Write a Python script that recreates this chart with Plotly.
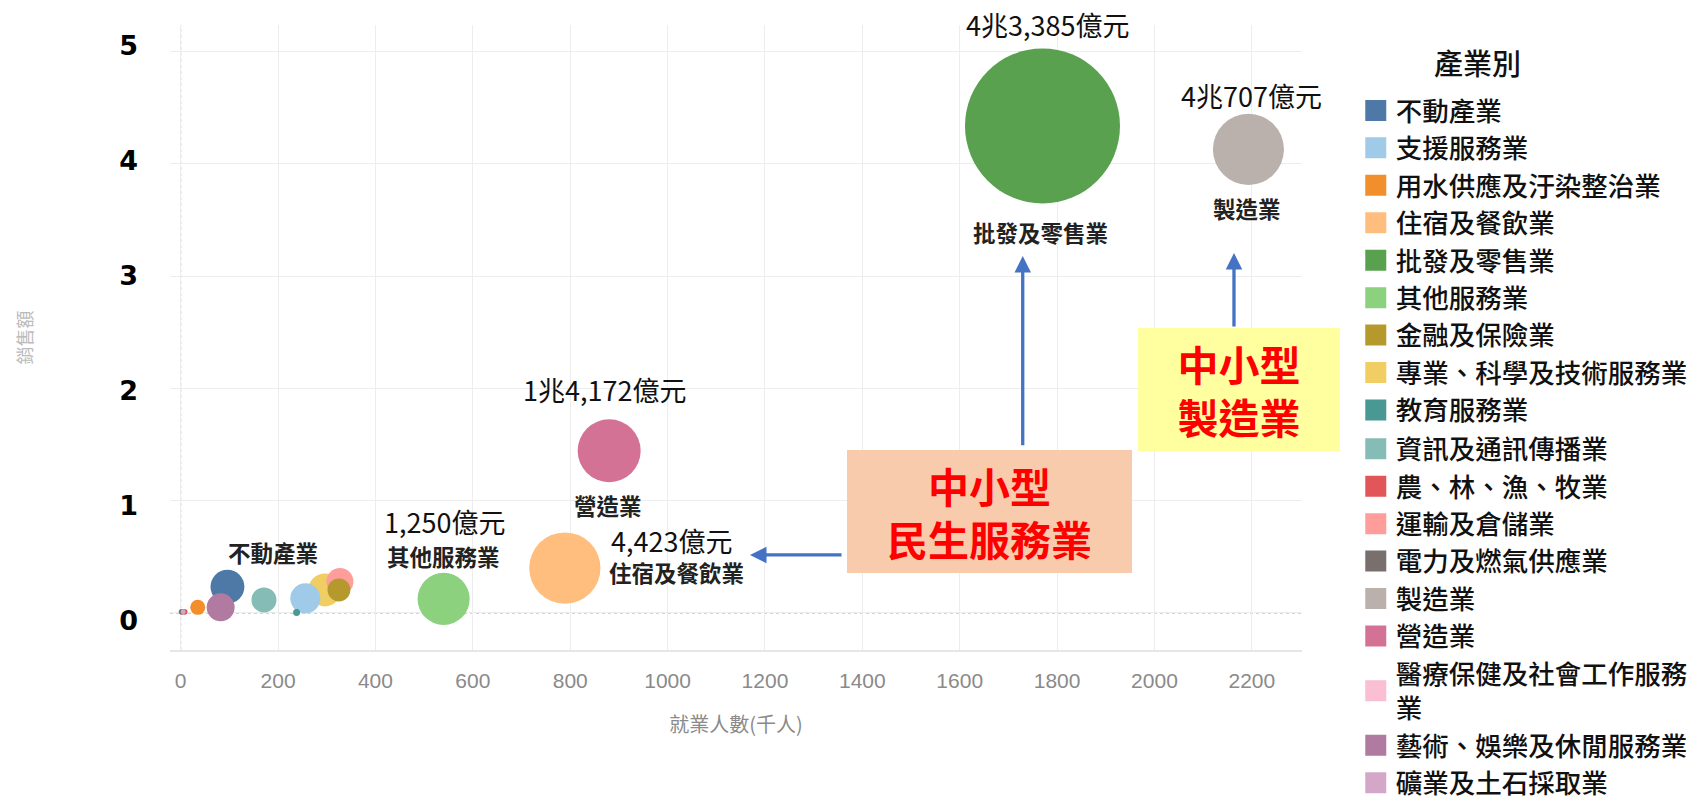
import plotly.graph_objects as go

# ---------------- data ----------------
industries = ["不動產業", "支援服務業", "用水供應及汙染整治業", "住宿及餐飲業", "批發及零售業",
              "其他服務業", "金融及保險業", "專業、科學及技術服務業", "教育服務業", "資訊及通訊傳播業",
              "農、林、漁、牧業", "運輸及倉儲業", "電力及燃氣供應業", "製造業", "營造業",
              "醫療保健及社會工作服務業", "藝術、娛樂及休閒服務業", "礦業及土石採取業"]
legend_names = ["不動產業", "支援服務業", "用水供應及汙染整治業", "住宿及餐飲業", "批發及零售業",
                "其他服務業", "金融及保險業", "專業、科學及技術服務業", "教育服務業", "資訊及通訊傳播業",
                "農、林、漁、牧業", "運輸及倉儲業", "電力及燃氣供應業", "製造業", "營造業",
                "醫療保健及社會工作服務<br>業", "藝術、娛樂及休閒服務業", "礦業及土石採取業"]
colors = ["#4E79A7", "#A0CBE8", "#F28E2B", "#FFBE7D", "#59A14F", "#8CD17D", "#B6992D", "#F1CE63",
          "#499894", "#86BCB6", "#E15759", "#FF9D9A", "#79706E", "#BAB0AC", "#D37295", "#FABFD2",
          "#B07AA1", "#D4A6C8"]
# 就業人數 (千人)
employment = [96, 256, 35, 789, 1770, 540, 325, 296, 238, 171, 8, 327, 2, 2193, 880, 312, 82, 5]
# 銷售額 (兆元)
sales = [0.234, 0.13, 0.05, 0.40, 4.3385, 0.125, 0.205, 0.205, 0.005, 0.116, 0.01, 0.28, 0.01,
         4.13, 1.445, 0.25, 0.05, 0.01]
# 企業家數 (千家)
enterprises = [33, 26, 6.5, 146, 690, 78, 15, 31, 1.4, 18, 1.0, 21, 1.0, 145, 114, 12, 22.5, 0.7]

label_industries = ["批發及零售業", "製造業", "營造業", "其他服務業", "住宿及餐飲業", "不動產業"]
label_values = ["4兆3,385億元", "4兆707億元", "1兆4,172億元", "1,250億元", "4,423億元", ""]

x_ticks = list(range(0, 2201, 200))
y_ticks = [0, 1, 2, 3, 4, 5]

legend_title = "產業別"
callout_texts = ["中小型<br>民生服務業", "中小型<br>製造業"]

# ---------------- figure ----------------
CJK = "Noto Sans CJK TC"
max_diam = 155
sizeref = 2.0 * max(enterprises) / (max_diam ** 2)

fig = go.Figure()

# big bubbles first so small ones stay visible; the hidden 醫療 bubble sits underneath
hidden_first = [industries.index("醫療保健及社會工作服務業")]
order = hidden_first + [i for i in sorted(range(len(industries)), key=lambda i: -enterprises[i])
                        if i not in hidden_first]
for i in order:
    fig.add_trace(go.Scatter(
        x=[employment[i]], y=[sales[i]], mode="markers", name=industries[i],
        marker=dict(size=[enterprises[i]], sizemode="area", sizeref=sizeref,
                    color=colors[i], opacity=1, line=dict(width=0)),
        showlegend=False, cliponaxis=False,
        hovertemplate=industries[i] + "<br>就業人數: %{x}千人<br>銷售額: %{y}兆元<extra></extra>"))

for i in range(len(industries)):
    fig.add_trace(go.Scatter(
        x=[None], y=[None], yaxis="y2", mode="markers", name=legend_names[i],
        marker=dict(symbol="square", size=16, color=colors[i],
                    line=dict(color=colors[i], width=5)),
        legend="legend" if i < 9 else "legend2", hoverinfo="skip"))

# labels near bubbles (pixel offsets from bubble centre)
name_offsets = {"批發及零售業": (-2, -106), "製造業": (-1, -59), "營造業": (-1, -54),
                "其他服務業": (0, 43), "住宿及餐飲業": (112, -4), "不動產業": (46, 35)}
value_offsets = {"批發及零售業": (5, 101), "製造業": (3, 54), "營造業": (-5, 61),
                 "其他服務業": (1, 77), "住宿及餐飲業": (107, 28)}
annotations = []
for name, val in zip(label_industries, label_values):
    i = industries.index(name)
    dx, dy = name_offsets[name]
    annotations.append(dict(x=employment[i], y=sales[i], xref="x", yref="y", text=name,
                            showarrow=False, xshift=dx, yshift=dy,
                            font=dict(family=CJK, size=22.5, color="#222222", weight="bold")))
    if val:
        dx, dy = value_offsets[name]
        annotations.append(dict(x=employment[i], y=sales[i], xref="x", yref="y", text=val,
                                showarrow=False, xshift=dx, yshift=dy,
                                font=dict(family=CJK, size=27, color="#111111")))

# legend heading
annotations.append(dict(x=1.1546, y=0.9408, xref="paper", yref="paper", text=legend_title,
                        showarrow=False, xanchor="center", yanchor="middle",
                        font=dict(family=CJK, size=29, color="#111111", weight=500)))

# callout boxes
annotations.append(dict(x=1660.5, y=0.905, xref="x", yref="y", text=callout_texts[0],
                        showarrow=False, width=285, height=123, bgcolor="#F8CBAD",
                        borderpad=0, borderwidth=0, align="center", valign="middle",
                        font=dict(family=CJK, size=41, color="#FF0000", weight="bold")))
annotations.append(dict(x=2173.6, y=1.991, xref="x", yref="y", text=callout_texts[1],
                        showarrow=False, width=202, height=123, bgcolor="#FFFFA0",
                        borderpad=0, borderwidth=0, align="center", valign="middle",
                        font=dict(family=CJK, size=41, color="#FF0000", weight="bold")))
# arrows
arrow_style = dict(showarrow=True, arrowhead=2, arrowsize=1, arrowwidth=3.3,
                   arrowcolor="#4472C4", text="", xref="x", yref="y", axref="x", ayref="y")
annotations.append(dict(x=1729.4, y=3.18, ax=1729.4, ay=1.4815, **arrow_style))
annotations.append(dict(x=2163.3, y=3.207, ax=2163.3, ay=2.539, **arrow_style))
annotations.append(dict(x=1169.3, y=0.5167, ax=1360.3, ay=0.5167, **arrow_style))

legend_font = dict(family=CJK, size=26.5, color="#111111", weight=500)

fig.update_layout(
    width=1708, height=801,
    # the page body adds an 8px offset; margins compensate for it
    margin=dict(l=162, r=414, t=17, b=159, autoexpand=False),
    paper_bgcolor="white", plot_bgcolor="white",
    annotations=annotations,
    showlegend=True,
    legend=dict(x=1.0475, y=0.9013, xanchor="left", yanchor="top",
                font=legend_font, bgcolor="rgba(0,0,0,0)", itemclick=False),
    legend2=dict(x=1.0475, y=0.36, xanchor="left", yanchor="top",
                 font=legend_font, bgcolor="rgba(0,0,0,0)", itemclick=False),
    xaxis=dict(range=[-22, 2303], tickvals=x_ticks, showgrid=True, gridcolor="#EDEDED",
               zeroline=False, showline=True, linecolor="#E6E6E6", linewidth=2,
               tickfont=dict(family="Liberation Sans", size=21, color="#8A8A8A"),
               ticklabelstandoff=11,
               title=dict(text="就業人數(千人)", standoff=27,
                          font=dict(family=CJK, size=20, color="#8A8A8A"))),
    yaxis=dict(range=[-0.33, 5.238], tickvals=y_ticks, showgrid=True, gridcolor="#EDEDED",
               zeroline=False, showline=False, showticklabels=False),
    # tick labels of the reference sit on a slightly different spacing than its gridlines
    yaxis2=dict(overlaying="y", side="left", anchor="x", range=[-0.252, 5.183],
                tickvals=y_ticks, showgrid=False, zeroline=False, showline=False,
                tickfont=dict(family="DejaVu Sans", size=27, color="#000000", weight="bold"),
                ticklabelstandoff=31,
                title=dict(text="銷售額", standoff=81,
                           font=dict(family=CJK, size=18, color="#BBBBBB"))),
    shapes=[
        dict(type="line", xref="x", yref="y domain", x0=0, x1=0, y0=0, y1=1,
             line=dict(color="#A0A0A0", width=1, dash="dot"), layer="below"),
        dict(type="line", xref="x domain", yref="y", x0=0, x1=1, y0=0, y1=0,
             line=dict(color="#A0A0A0", width=1, dash="dot"), layer="below"),
    ],
)

fig.write_html("out.html")
